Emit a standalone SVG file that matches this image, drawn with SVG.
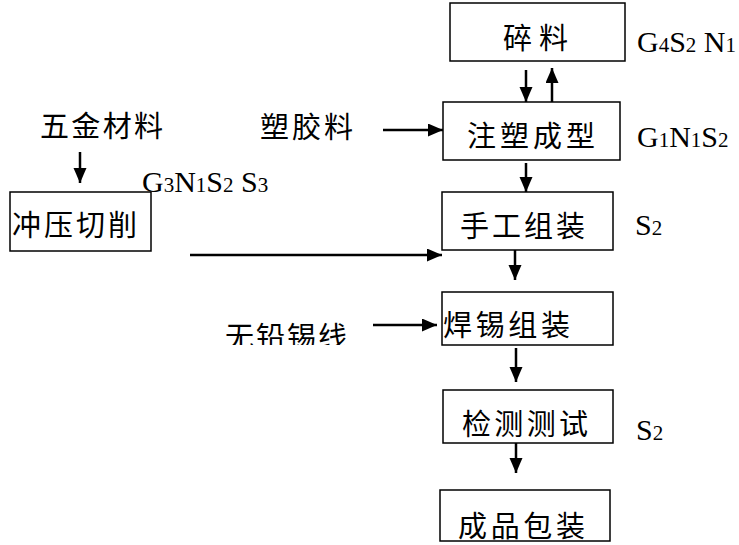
<svg xmlns="http://www.w3.org/2000/svg" width="739" height="545" viewBox="0 0 739 545">
<style>
.box{fill:#fff;stroke:#000;stroke-width:1.5}
.cn{font-family:"Noto Sans CJK SC","Noto Sans",sans-serif;font-size:29px;fill:#000}
.em{font-family:"Liberation Serif","Times New Roman",serif;font-size:30px;fill:#000}
.sub{font-size:21px}
.arr{stroke:#000;stroke-width:2.5;fill:none;marker-end:url(#ah)}
</style>
<defs>
<marker id="ah" markerUnits="userSpaceOnUse" markerWidth="16" markerHeight="14" refX="15" refY="6.5" orient="auto">
<path d="M0,0 L15,6.5 L0,13 z" fill="#000"/>
</marker>
<clipPath id="clipA"><rect x="200" y="300" width="200" height="45"/></clipPath>
<clipPath id="clipB"><rect x="430" y="480" width="200" height="60"/></clipPath>
</defs>
<rect width="739" height="545" fill="#fff"/>

<g id="n-suiliao">
<rect class="box" x="450" y="3" width="175" height="58"/>
<text class="cn" x="503" y="48.5" textLength="65" lengthAdjust="spacing">碎料</text>
</g>
<g id="n-zhusu">
<rect class="box" x="443" y="102" width="177" height="58"/>
<text class="cn" x="467" y="147" textLength="128" lengthAdjust="spacing">注塑成型</text>
</g>
<g id="n-wujin">
<text class="cn" x="40" y="137" textLength="123" lengthAdjust="spacing">五金材料</text>
</g>
<g id="n-sujiao">
<text class="cn" x="260" y="138" textLength="93" lengthAdjust="spacing">塑胶料</text>
</g>
<g id="n-chongya">
<rect class="box" x="10" y="192" width="141" height="59"/>
<text class="cn" x="12" y="236" textLength="125" lengthAdjust="spacing">冲压切削</text>
</g>
<g id="n-shougong">
<rect class="box" x="442" y="192" width="171" height="58"/>
<text class="cn" x="460" y="237" textLength="125" lengthAdjust="spacing">手工组装</text>
</g>
<g id="n-wuqian">
<text class="cn" x="225" y="347.5" textLength="122" lengthAdjust="spacing" clip-path="url(#clipA)">无铅锡线</text>
</g>
<g id="n-hanxi">
<rect class="box" x="442" y="292" width="171" height="53"/>
<text class="cn" x="443" y="336" textLength="127" lengthAdjust="spacing">焊锡组装</text>
</g>
<g id="n-jiance">
<rect class="box" x="443" y="390" width="170" height="53"/>
<text class="cn" x="462" y="435" textLength="126" lengthAdjust="spacing">检测测试</text>
</g>
<g id="n-chengpin">
<rect class="box" x="440" y="490" width="170" height="51"/>
<text class="cn" x="458" y="536.5" textLength="127" lengthAdjust="spacing" clip-path="url(#clipB)">成品包装</text>
</g>

<g id="labels">
<text class="em" x="637" y="52">G<tspan class="sub">4</tspan>S<tspan class="sub">2</tspan> N<tspan class="sub">1</tspan></text>
<text class="em" x="637" y="147">G<tspan class="sub">1</tspan>N<tspan class="sub">1</tspan>S<tspan class="sub">2</tspan></text>
<text class="em" x="142" y="192">G<tspan class="sub">3</tspan>N<tspan class="sub">1</tspan>S<tspan class="sub">2</tspan> S<tspan class="sub">3</tspan></text>
<text class="em" x="635" y="235">S<tspan class="sub">2</tspan></text>
<text class="em" x="636" y="440">S<tspan class="sub">2</tspan></text>
</g>

<g id="connectors">
<line class="arr" x1="526" y1="70" x2="526" y2="102"/>
<line class="arr" x1="552" y1="102" x2="552" y2="68"/>
<line class="arr" x1="526" y1="163" x2="526" y2="192"/>
<line class="arr" x1="80" y1="152" x2="80" y2="183"/>
<line class="arr" x1="383" y1="130" x2="443" y2="130"/>
<line class="arr" x1="190" y1="255" x2="442" y2="255"/>
<line class="arr" x1="515" y1="250" x2="515" y2="280"/>
<line class="arr" x1="373" y1="325" x2="437" y2="325"/>
<line class="arr" x1="516" y1="348" x2="516" y2="382"/>
<line class="arr" x1="516" y1="443" x2="516" y2="473"/>
</g>
</svg>
